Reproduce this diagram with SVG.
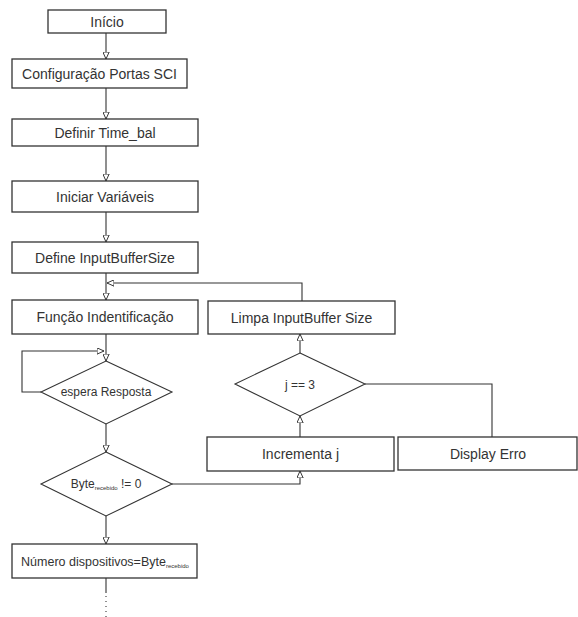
<svg xmlns="http://www.w3.org/2000/svg" width="578" height="617" viewBox="0 0 578 617">
  <style>
    .box { fill: #fff; stroke: #333; stroke-width: 1.3; }
    .dec { fill: #fff; stroke: #333; stroke-width: 1.1; }
    .ln { fill: none; stroke: #333; stroke-width: 1.1; }
    .t { font-family: "Liberation Sans", Arial, sans-serif; font-size: 14px; fill: #333; text-anchor: middle; }
    .td { font-family: "Liberation Sans", Arial, sans-serif; font-size: 12px; fill: #333; text-anchor: middle; }
    .sub { font-size: 6px; }
  </style>
  <defs>
    <marker id="arr" viewBox="0 0 10 10" refX="10" refY="5" markerWidth="7" markerHeight="7" markerUnits="userSpaceOnUse" orient="auto">
      <path d="M0,0.5 L10,5 L0,9.5 Z" fill="#fff" stroke="#333" stroke-width="1.4"/>
    </marker>
  </defs>
  <rect width="578" height="617" fill="#fff"/>

  <g id="connectors">
    <line class="ln" x1="106" y1="33" x2="106" y2="59" marker-end="url(#arr)"/>
    <line class="ln" x1="106" y1="88" x2="106" y2="119" marker-end="url(#arr)"/>
    <line class="ln" x1="106" y1="146" x2="106" y2="181" marker-end="url(#arr)"/>
    <line class="ln" x1="106" y1="212" x2="106" y2="242" marker-end="url(#arr)"/>
    <line class="ln" x1="106" y1="273" x2="106" y2="300" marker-end="url(#arr)"/>
    <polyline class="ln" points="302,301 302,283 107,283" marker-end="url(#arr)"/>
    <line class="ln" x1="106" y1="334" x2="106" y2="361" marker-end="url(#arr)"/>
    <polyline class="ln" points="41,392 22,392 22,351 104,351" marker-end="url(#arr)"/>
    <line class="ln" x1="106" y1="424" x2="106" y2="452" marker-end="url(#arr)"/>
    <line class="ln" x1="106" y1="516" x2="106" y2="544" marker-end="url(#arr)"/>
    <polyline class="ln" points="172,484 300,484 300,471" marker-end="url(#arr)"/>
    <line class="ln" x1="300" y1="437" x2="300" y2="416" marker-end="url(#arr)"/>
    <line class="ln" x1="300" y1="353" x2="300" y2="334" marker-end="url(#arr)"/>
    <polyline class="ln" points="365,384 492,384 492,437"/>
    <line class="ln" x1="106" y1="578" x2="106" y2="593"/>
    <line class="ln" x1="106" y1="596" x2="106" y2="617" stroke-dasharray="1 4"/>
  </g>

  <g id="inicio">
    <rect class="box" x="48" y="10" width="118" height="23"/>
    <text class="t" x="107" y="26.5">Início</text>
  </g>
  <g id="config-portas">
    <rect class="box" x="12" y="59" width="175" height="29"/>
    <text class="t" x="99.5" y="78.5">Configuração Portas SCI</text>
  </g>
  <g id="definir-time">
    <rect class="box" x="12" y="119" width="186" height="27"/>
    <text class="t" x="105" y="137.5">Definir Time_bal</text>
  </g>
  <g id="iniciar-variaveis">
    <rect class="box" x="12" y="181" width="186" height="31"/>
    <text class="t" x="105" y="201.5">Iniciar Variáveis</text>
  </g>
  <g id="define-buffer">
    <rect class="box" x="12" y="242" width="186" height="31"/>
    <text class="t" x="105" y="262.5">Define InputBufferSize</text>
  </g>
  <g id="funcao-identificacao">
    <rect class="box" x="12" y="300" width="186" height="34"/>
    <text class="t" x="105" y="322">Função Indentificação</text>
  </g>
  <g id="limpa-buffer">
    <rect class="box" x="208" y="301" width="187" height="33"/>
    <text class="t" x="301.5" y="322.5">Limpa InputBuffer Size</text>
  </g>
  <g id="espera-resposta">
    <polygon class="dec" points="106,361 172,392 106,424 41,392"/>
    <text class="td" x="106" y="396">espera Resposta</text>
  </g>
  <g id="j-igual-3">
    <polygon class="dec" points="300,353 365,384 300,416 235,384"/>
    <text class="td" x="300" y="388.5">j == 3</text>
  </g>
  <g id="incrementa-j">
    <rect class="box" x="207" y="437" width="187" height="34"/>
    <text class="t" x="300.5" y="459">Incrementa j</text>
  </g>
  <g id="display-erro">
    <rect class="box" x="398" y="437" width="179" height="33"/>
    <text class="t" x="488" y="459">Display Erro</text>
  </g>
  <g id="byte-recebido">
    <polygon class="dec" points="106,452 172,484 106,516 41,484"/>
    <text class="td" x="106" y="488">Byte<tspan class="sub" dy="2">recebido</tspan><tspan dy="-2"> != 0</tspan></text>
  </g>
  <g id="numero-dispositivos">
    <rect class="box" x="12" y="544" width="185" height="34"/>
    <text class="td" x="105" y="565.5" style="font-size:12.5px">Número dispositivos=Byte<tspan class="sub" dy="2">recebido</tspan></text>
  </g>
</svg>
